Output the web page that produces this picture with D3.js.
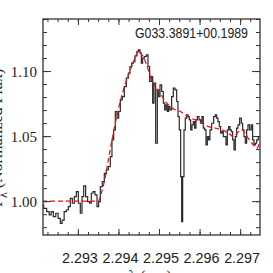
<!DOCTYPE html>
<html>
<head>
<meta charset="utf-8">
<script src="https://cdn.jsdelivr.net/npm/d3@7"></script>
<style>
  body { margin: 0; background: #fff; }
  svg { display: block; }
</style>
</head>
<body>
<div id="chart"></div>
<script>
const width = 273,
    height = 273,
    margin = ({ top: 19, right: 13, bottom: 38, left: 43 });

const title = "G033.3891+00.1989";

// observed spectrum (step line)
const obsWave = [2.292115, 2.292197, 2.292263, 2.292320, 2.292362, 2.292427, 2.292485, 2.292542, 2.292592, 2.292633,
    2.292690, 2.292740, 2.292789, 2.292838, 2.292888, 2.292937, 2.292986, 2.293035, 2.293085, 2.293118,
    2.293167, 2.293216, 2.293266, 2.293315, 2.293348, 2.293397, 2.293446, 2.293496, 2.293528, 2.293578,
    2.293627, 2.293676, 2.293726, 2.293775, 2.293824, 2.293857, 2.293907, 2.293939, 2.293989, 2.294022,
    2.294071, 2.294120, 2.294170, 2.294219, 2.294268, 2.294301, 2.294350, 2.294383, 2.294432, 2.294482,
    2.294515, 2.294548, 2.294580, 2.294613, 2.294663, 2.294712, 2.294745, 2.294794, 2.294827, 2.294860,
    2.294893, 2.294942, 2.294975, 2.295008, 2.295041, 2.295090, 2.295123, 2.295156, 2.295189, 2.295221,
    2.295254, 2.295287, 2.295336, 2.295369, 2.295419, 2.295452, 2.295484, 2.295517, 2.295550, 2.295567,
    2.295600, 2.295632, 2.295665, 2.295698, 2.295731, 2.295764, 2.295797, 2.295830, 2.295862, 2.295895,
    2.295928, 2.295961, 2.296010, 2.296043, 2.296076, 2.296109, 2.296142, 2.296175, 2.296207, 2.296240,
    2.296273, 2.296323, 2.296372, 2.296405, 2.296438, 2.296471, 2.296503, 2.296536, 2.296569, 2.296602,
    2.296635, 2.296668, 2.296701, 2.296733, 2.296766, 2.296799, 2.296832, 2.296865, 2.296898, 2.296931,
    2.296964, 2.297013, 2.297046, 2.297079, 2.297111, 2.297144, 2.297177, 2.297210, 2.297259, 2.297292,
    2.297325, 2.297358, 2.297391, 2.297424, 2.297473];
const obsFlux = [0.9971, 0.9945, 0.9920, 0.9894, 0.9920, 0.9881, 0.9907, 0.9868, 0.9830, 0.9855,
    0.9920, 0.9932, 0.9958, 1.0022, 0.9984, 1.0035, 1.0073, 0.9984, 0.9907, 1.0035,
    1.0117, 1.0035, 0.9996, 0.9984, 1.0061, 1.0073, 1.0048, 0.9958, 0.9996, 1.0112,
    1.0150, 1.0214, 1.0240, 1.0266, 1.0343, 1.0471, 1.0548, 1.0689, 1.0638, 1.0689,
    1.0779, 1.0804, 1.0881, 1.0945, 1.0984, 1.1035, 1.1061, 1.1073, 1.1117, 1.1150,
    1.1163, 1.1137, 1.1061, 1.1099, 1.1112, 1.1125, 1.1035, 1.0920, 1.0958, 1.0753,
    1.0907, 1.0445, 1.0855, 1.0804, 1.0894, 1.0843, 1.0753, 1.0702, 1.0740, 1.0689,
    1.0727, 1.0702, 1.0804, 1.0868, 1.0855, 1.0766, 1.0650, 1.0548, 1.0189, 0.9843,
    1.0189, 1.0548, 1.0638, 1.0663, 1.0650, 1.0625, 1.0548, 1.0586, 1.0612, 1.0561,
    1.0625, 1.0650, 1.0625, 1.0599, 1.0650, 1.0561, 1.0548, 1.0432, 1.0496, 1.0471,
    1.0548, 1.0599, 1.0650, 1.0663, 1.0638, 1.0612, 1.0573, 1.0522, 1.0535, 1.0496,
    1.0496, 1.0432, 1.0548, 1.0573, 1.0548, 1.0535, 1.0471, 1.0394, 1.0496, 1.0561,
    1.0586, 1.0638, 1.0599, 1.0548, 1.0496, 1.0445, 1.0548, 1.0586, 1.0548, 1.0586,
    1.0471, 1.0432, 1.0445, 1.0471, 1.0496];

// model fit (red dashed)
const modelWave = [2.292115, 2.293496, 2.293578, 2.293676, 2.293759, 2.293841, 2.293923, 2.294022, 2.294128, 2.294252,
    2.294375, 2.294498, 2.294580, 2.294679, 2.294786, 2.294909, 2.295032, 2.295156, 2.295279, 2.295402,
    2.295526, 2.295649, 2.295772, 2.295895, 2.296060, 2.296224, 2.296388, 2.296553, 2.296717, 2.296840,
    2.296964, 2.297046, 2.297169, 2.297292, 2.297415, 2.297473];
const modelFlux = [1.0000, 1.0000, 1.0061, 1.0189, 1.0330, 1.0470, 1.0600, 1.0740, 1.0860, 1.0975,
    1.1073, 1.1160, 1.1125, 1.1061, 1.0958, 1.0881, 1.0830, 1.0766, 1.0727, 1.0702,
    1.0689, 1.0663, 1.0638, 1.0625, 1.0599, 1.0573, 1.0561, 1.0548, 1.0522, 1.0496,
    1.0535, 1.0548, 1.0496, 1.0445, 1.0407, 1.0445];

const xTicks = [2.293, 2.294, 2.295, 2.296, 2.297];
const yTicks = [1.00, 1.05, 1.10];
const xTickLabels = ["2.293", "2.294", "2.295", "2.296", "2.297"];
const yTickLabels = ["1.00", "1.05", "1.10"];

const svg = d3.select("#chart")
    .append("svg")
    .attr("width", width)
    .attr("height", height)
    .attr("viewBox", [0, 0, width, height]);

let x = d3.scaleLinear()
    .domain([2.29214, 2.29749])
    .range([margin.left, width - margin.right]);

let y = d3.scaleLinear()
    .domain([0.974, 1.14])
    .range([height - margin.bottom, margin.top]);

const obs = obsWave.map((w, i) => ({ w: w, f: obsFlux[i] }));
const model = modelWave.map((w, i) => ({ w: w, f: modelFlux[i] }));

svg.append("clipPath").attr("id", "clip")
  .append("rect")
    .attr("x", margin.left).attr("y", margin.top)
    .attr("width", width - margin.left - margin.right)
    .attr("height", height - margin.top - margin.bottom);

// spectrum
svg.append("path")
    .datum(obs)
    .attr("clip-path", "url(#clip)")
    .attr("d", d3.line().x(d => x(d.w)).y(d => y(d.f)).curve(d3.curveStep))
    .attr("fill", "none")
    .attr("stroke", "#2a2a2a")
    .attr("stroke-width", 1.2);

// model
svg.append("path")
    .datum(model)
    .attr("clip-path", "url(#clip)")
    .attr("d", d3.line().x(d => x(d.w)).y(d => y(d.f)).curve(d3.curveMonotoneX))
    .attr("fill", "none")
    .attr("stroke", "#e8141e")
    .attr("stroke-width", 1.3)
    .attr("stroke-dasharray", "5,3");

// ticks (inward, on all four sides)
const xMinor = d3.range(2.29225, 2.2975, 0.00025);
const yMinor = d3.range(0.98, 1.1401, 0.01);
const plotB = height - margin.bottom, plotT = margin.top;
const plotL = margin.left, plotR = width - margin.right;

function ticks(axis, tr) {
  const g = svg.append("g").attr("transform", tr).call(axis);
  g.select(".domain").remove();
  g.selectAll("line").attr("stroke", "#333").attr("stroke-width", 1);
  return g;
}

ticks(d3.axisBottom(x).tickValues(xMinor).tickSize(-3).tickFormat(""), `translate(0,${plotB})`);
ticks(d3.axisTop(x).tickValues(xMinor).tickSize(-3).tickFormat(""), `translate(0,${plotT})`);
ticks(d3.axisTop(x).tickValues(xTicks).tickSize(-6).tickFormat(""), `translate(0,${plotT})`);
const gx = ticks(d3.axisBottom(x).tickValues(xTicks).tickSize(-6).tickFormat((d, i) => xTickLabels[i]), `translate(0,${plotB})`);
gx.selectAll("text")
    .attr("y", 28)
    .attr("dy", 0)
    .attr("dx", 1.5)
    .attr("fill", "#222")
    .style("font-family", "'Liberation Sans', Arial, sans-serif")
    .style("font-size", "15px")
    .attr("textLength", 36)
    .attr("lengthAdjust", "spacingAndGlyphs");

ticks(d3.axisLeft(y).tickValues(yMinor).tickSize(-4).tickFormat(""), `translate(${plotL},0)`);
ticks(d3.axisRight(y).tickValues(yMinor).tickSize(-4).tickFormat(""), `translate(${plotR},0)`);
ticks(d3.axisRight(y).tickValues(yTicks).tickSize(-8).tickFormat(""), `translate(${plotR},0)`);
const gy = ticks(d3.axisLeft(y).tickValues(yTicks).tickSize(-8).tickPadding(6).tickFormat((d, i) => yTickLabels[i]), `translate(${plotL},0)`);
gy.selectAll("text")
    .attr("fill", "#222")
    .attr("dy", "0.35em")
    .style("font-family", "'Liberation Serif', 'Times New Roman', serif")
    .style("font-size", "15px");

// frame
svg.append("rect")
    .attr("x", plotL).attr("y", plotT)
    .attr("width", plotR - plotL).attr("height", plotB - plotT)
    .attr("fill", "none")
    .attr("stroke", "#333")
    .attr("stroke-width", 1.3);

// title
svg.append("text")
    .attr("x", 135)
    .attr("y", 38)
    .attr("fill", "#222")
    .style("font-family", "'Liberation Sans', Arial, sans-serif")
    .style("font-size", "14px")
    .attr("textLength", 113)
    .attr("lengthAdjust", "spacingAndGlyphs")
    .text(title);

// axis labels (mostly off-canvas, like the reference)
svg.append("text")
    .attr("x", 150)
    .attr("y", 282)
    .attr("text-anchor", "middle")
    .attr("fill", "#222")
    .style("font-family", "'Liberation Serif', serif")
    .style("font-size", "16px")
    .text("λ (μm)");

const yl = svg.append("text")
    .attr("transform", "translate(1.5,207) rotate(-90)")
    .attr("fill", "#222")
    .style("font-family", "'Liberation Serif', serif")
    .style("font-size", "16px");
yl.append("tspan").text("F");
yl.append("tspan").attr("dy", 5).style("font-size", "12px").text("λ");
yl.append("tspan").attr("dy", -5).text(" (Normalized Flux)");
</script>
</body>
</html>
